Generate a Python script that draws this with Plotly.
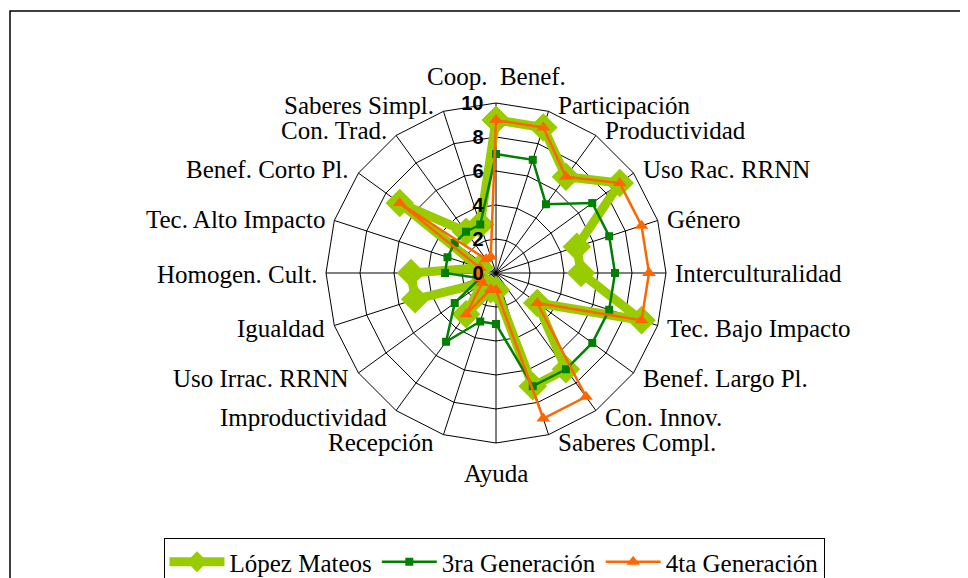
import math
import plotly.graph_objects as go

categorias = ['Coop.  Benef.', 'Participación', 'Productividad', 'Uso Rac. RRNN', 'Género',
              'Interculturalidad', 'Tec. Bajo Impacto', 'Benef. Largo Pl.', 'Con. Innov.',
              'Saberes Compl.', 'Ayuda', 'Recepción', 'Improductividad', 'Uso Irrac. RRNN',
              'Igualdad', 'Homogen. Cult.', 'Tec. Alto Impacto', 'Benef. Corto Pl.',
              'Con. Trad.', 'Saberes Simpl.']

lopez_mateos = [9, 9, 7, 9, 5, 5, 9, 3, 7, 7, 1, 1, 3, 1, 5, 5, 1, 7, 3, 3]
tercera_gen = [7, 7, 5, 7, 7, 7, 7, 7, 7, 7, 3, 3, 5, 3, 1, 3, 3, 3, 3, 3]
cuarta_gen = [9, 9, 7, 9, 9, 9, 9, 3, 9, 9, 1, 1, 3, 1, 1, 1, 1, 7, 1, 1]

ticks_r = [0, 2, 4, 6, 8, 10]

# la pagina tiene 8 px de margen en el body, se compensa aqui
W, H = 968, 578
off = 8
cx, cy, R = 496 - off, 273 - off, 170


def cerrar(v):
    return v + v[:1]


fig = go.Figure()

fig.add_trace(go.Scatterpolar(
    r=cerrar(lopez_mateos), theta=cerrar(categorias), name='López Mateos',
    mode='lines+markers',
    line=dict(color='#99CC00', width=9),
    marker=dict(symbol='diamond', size=22, color='#99CC00')))

fig.add_trace(go.Scatterpolar(
    r=cerrar(tercera_gen), theta=cerrar(categorias), name='3ra Generación',
    mode='lines+markers',
    line=dict(color='#008000', width=2.5),
    marker=dict(symbol='square', size=8, color='#008000')))

fig.add_trace(go.Scatterpolar(
    r=cerrar(cuarta_gen), theta=cerrar(categorias), name='4ta Generación',
    mode='lines+markers',
    line=dict(color='#FF6600', width=2.5),
    marker=dict(symbol='triangle-up', size=12, color='#FF6600')))

# etiquetas de categoria colocadas como en Excel (pegadas al vertice exterior)
anotaciones = []
n = len(categorias)
for k, nombre in enumerate(categorias):
    a = math.radians(360 * k / n)
    s, c = math.sin(a), math.cos(a)
    vx = cx + R * s
    vy = cy - R * c
    if abs(s) < 0.01:
        xa = 'center'
        tx = vx
        ty = vy - 26 if c > 0 else vy + 30
    else:
        xa = 'left' if s > 0 else 'right'
        tx = vx + 7 * (1 if s > 0 else -1)
        ty = vy + 1 - 7 * c
    anotaciones.append(dict(text=nombre, x=tx / W, y=1 - ty / H, xref='paper', yref='paper',
                            xanchor=xa, yanchor='middle', showarrow=False,
                            font=dict(family='Liberation Serif', size=25, color='black')))

fig.update_layout(
    width=W, height=H,
    margin=dict(l=0, r=0, t=0, b=0, autoexpand=False),
    paper_bgcolor='white',
    font=dict(family='Liberation Serif', color='black'),
    polar=dict(
        domain=dict(x=[(cx - R) / W, (cx + R) / W],
                    y=[(H - cy - R) / H, (H - cy + R) / H]),
        bgcolor='white',
        gridshape='linear',
        angularaxis=dict(direction='clockwise', rotation=90,
                         gridcolor='black', gridwidth=1,
                         linecolor='black', linewidth=1,
                         showline=True, ticks='', showticklabels=False),
        radialaxis=dict(range=[0, 10], tickvals=ticks_r, angle=90, tickangle=90,
                        side='counterclockwise',
                        showline=False, gridcolor='black', gridwidth=1,
                        ticks='outside', ticklen=5, tickcolor='rgba(0,0,0,0)',
                        tickfont=dict(family='Liberation Sans', size=20, color='black',
                                      weight='bold')),
    ),
    annotations=anotaciones,
    legend=dict(orientation='h', x=(494 - off) / W, xanchor='center',
                y=1 - (538 - off) / H, yanchor='top',
                bordercolor='black', borderwidth=1, bgcolor='white',
                font=dict(family='Liberation Serif', size=25, color='black'),
                itemwidth=55),
    shapes=[dict(type='rect', xref='paper', yref='paper',
                 x0=(10 - off) / W, x1=1.1, y0=-0.1, y1=1 - (11 - off) / H,
                 line=dict(color='black', width=1.5))],
)

fig.write_html("out.html")
